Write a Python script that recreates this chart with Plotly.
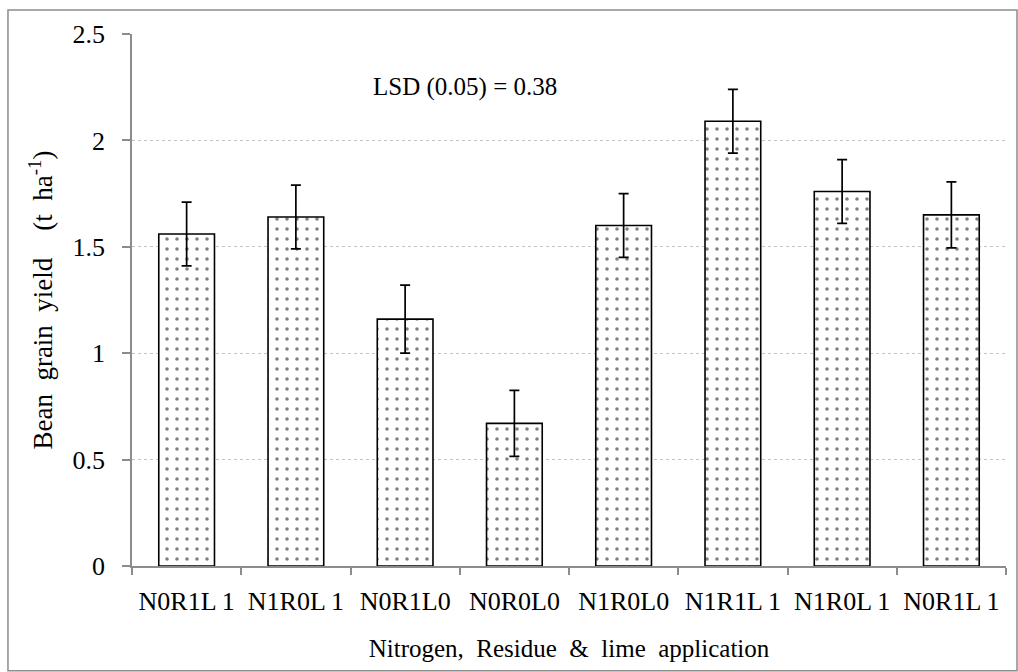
import plotly.graph_objects as go

# Treatments and mean bean grain yield (t/ha) with standard error
treatments = ["N0R1L\u20091", "N1R0L\u20091", "N0R1L0", "N0R0L0", "N1R0L0", "N1R1L\u20091", "N1R0L\u20091", "N0R1L\u20091"]
yield_mean = [1.56, 1.64, 1.16, 0.67, 1.60, 2.09, 1.76, 1.65]
yield_err = [0.15, 0.15, 0.16, 0.155, 0.15, 0.15, 0.15, 0.155]
y_ticks = [0, 0.5, 1, 1.5, 2, 2.5]

serif = "Liberation Serif, Times New Roman, serif"
nb = "\u00a0"
positions = list(range(len(treatments)))

fig = go.Figure()
fig.add_trace(go.Bar(
    x=positions,
    y=yield_mean,
    width=0.51,
    marker=dict(
        color="white",
        line=dict(color="black", width=1.6),
        pattern=dict(shape=".", fgcolor="black", bgcolor="white", size=10, solidity=0.1),
    ),
    error_y=dict(type="data", array=yield_err, visible=True,
                 color="black", thickness=1.7, width=5),
    hoverinfo="skip",
))

fig.add_annotation(
    text="LSD (0.05) = 0.38", x=0.381, y=0.9, xref="paper", yref="paper",
    xanchor="center", yanchor="middle", showarrow=False,
    font=dict(family=serif, size=25, color="black"),
)

# outer chart frame
fig.add_shape(type="rect", xref="paper", yref="paper",
              x0=-0.1419, x1=1.0126, y0=-0.197, y1=1.045,
              line=dict(color="#8c8c8c", width=1.5), fillcolor="rgba(0,0,0,0)")

fig.update_layout(
    width=1018, height=672,
    margin=dict(l=132, r=12, t=34, b=106),
    paper_bgcolor="white", plot_bgcolor="white",
    showlegend=False,
    font=dict(family=serif, color="black"),
)

fig.update_xaxes(
    range=[-0.5, len(treatments) - 0.5],
    tickmode="array", tickvals=positions, ticktext=treatments,
    ticks="", showgrid=False,
    tickfont=dict(family=serif, size=26, color="black"),
    ticklabelstandoff=11,
    showline=True, linecolor="#8c8c8c", linewidth=1.5,
    minor=dict(tickmode="array", tickvals=[p - 0.5 for p in positions] + [len(treatments) - 0.5],
               ticks="outside", ticklen=7, tickcolor="#8c8c8c", tickwidth=1.5, showgrid=False),
    title=dict(text=f"Nitrogen,{nb} Residue{nb} &{nb} lime{nb} application",
               font=dict(family=serif, size=25, color="black"), standoff=25),
    zeroline=False,
)

fig.update_yaxes(
    range=[0, 2.5],
    tickmode="array", tickvals=y_ticks, ticktext=[f"{v:g}" for v in y_ticks],
    ticks="outside", ticklen=8, tickcolor="#8c8c8c", tickwidth=1.5,
    tickfont=dict(family=serif, size=26, color="black"),
    ticklabelstandoff=12,
    showline=True, linecolor="#8c8c8c", linewidth=1.5,
    showgrid=True, gridcolor="#c4c4c4", griddash="dot", gridwidth=1.2,
    zeroline=False,
    title=dict(text=f"Bean{nb} grain{nb} yield{nb}{nb}{nb} (t{nb} ha<sup>-1</sup>)",
               font=dict(family=serif, size=27, color="black"), standoff=12),
)

fig.write_html("out.html")
